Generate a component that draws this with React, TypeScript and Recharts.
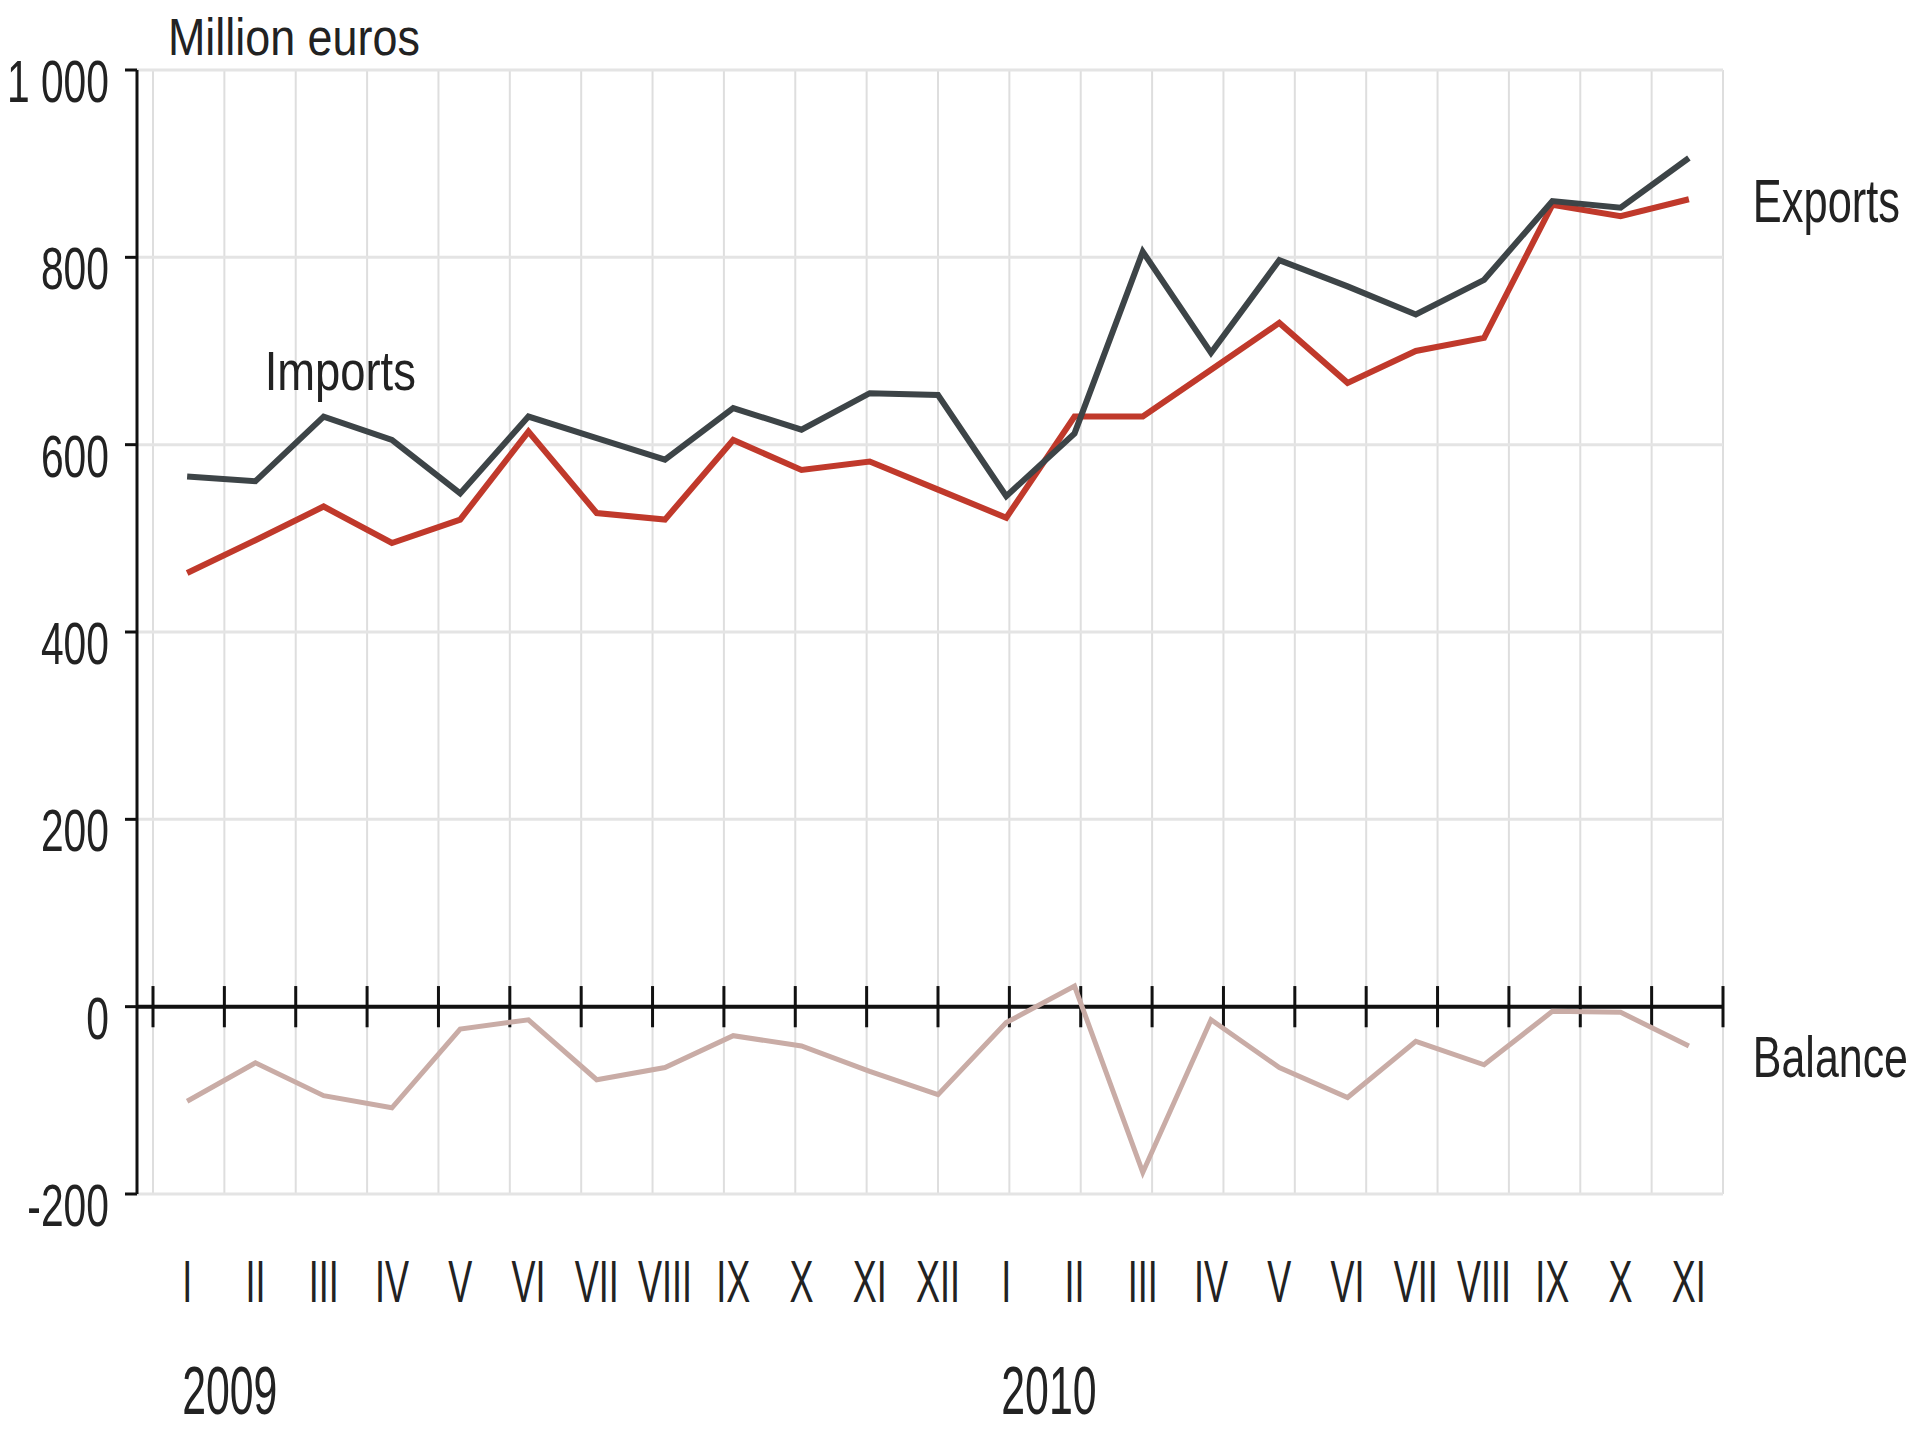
import React from "react";
import {
  LineChart,
  Line,
  XAxis,
  YAxis,
  ReferenceLine,
  LabelList,
  Customized
} from "recharts";

// months of 2009 (I–XII) and 2010 (I–XI)
const months = [
  "I", "II", "III", "IV", "V", "VI", "VII", "VIII", "IX", "X", "XI", "XII",
  "I", "II", "III", "IV", "V", "VI", "VII", "VIII", "IX", "X", "XI"
];
const imports = [
  566, 561, 630, 605, 548, 630, 607, 584, 639, 616, 655, 653,
  545, 612, 806, 698, 797, 769, 739, 776, 860, 853, 906
];
const exportsV = [
  463, 498, 534, 495, 520, 614, 527, 520, 605, 573, 582, 552,
  522, 630, 630, 680, 730, 666, 700, 714, 856, 844, 862
];
const balance = [
  -101, -60, -95, -108, -24, -14, -78, -65, -31, -42, -69, -94,
  -17, 22, -177, -14, -65, -97, -37, -62, -5, -6, -42
];
const yTicks = [-200, 0, 200, 400, 600, 800, 1000];
const years = [
  { label: "2009", at: 0 },
  { label: "2010", at: 12 }
];

const data = months.map((m, i) => ({
  slot: `${i}-${m}`,
  imports: imports[i],
  exports: exportsV[i],
  balance: balance[i]
}));
const edges = Array.from({ length: months.length + 1 }, (_, i) => i);

const FONT = "'Liberation Sans', Arial, sans-serif";
const INK = "#222";

const fmt = (v: number) => String(v).replace(/\B(?=(\d{3})+(?!\d))/g, " ");

// the source type is tall and condensed: draw at width size, stretch vertically
const Tall = ({ x, y, size, sx, anchor = "start", children }: any) => (
  <text
    transform={`translate(${x},${y}) scale(1,${1 / sx})`}
    textAnchor={anchor}
    fontSize={size * sx}
    fontFamily={FONT}
    fill={INK}
  >
    {children}
  </text>
);

const XTick = (props: any) => {
  const { x, y, payload } = props;
  const i = payload.index;
  const year = years.find((yr) => yr.at === i);
  return (
    <g>
      <Tall x={x} y={y + 106} size={60} sx={0.6} anchor="middle">
        {months[i]}
      </Tall>
      {year && (
        <Tall x={x - 5} y={y + 218} size={68} sx={0.63}>
          {year.label}
        </Tall>
      )}
    </g>
  );
};

const YTick = (props: any) => {
  const { x, y, payload } = props;
  return (
    <Tall x={x} y={y + 32} size={60} sx={0.68} anchor="end">
      {fmt(payload.value)}
    </Tall>
  );
};

const seriesLabel =
  (text: string, at: number, dx: number, dy: number, size: number, sx: number) =>
  (props: any) => {
    const { x, y, index } = props;
    if (index !== at) return null;
    return (
      <Tall x={x + dx} y={y + dy} size={size} sx={sx}>
        {text}
      </Tall>
    );
  };

const last = months.length - 1;

export default function App() {
  return (
    <div style={{ width: 1904, height: 1424 }}>
      <LineChart
        width={1904}
        height={1424}
        data={data}
        margin={{ top: 62, right: 189, bottom: 0, left: 0 }}
      >
        <XAxis
          dataKey="slot"
          scale="band"
          interval={0}
          axisLine={false}
          tickLine={false}
          tickSize={0}
          height={238}
          padding={{ left: 16, right: 0 }}
          tick={<XTick />}
        />
        <XAxis
          xAxisId="grid"
          type="number"
          domain={[0, months.length]}
          padding={{ left: 16, right: 0 }}
          hide
        />
        <YAxis
          domain={[-200, 1000]}
          ticks={yTicks}
          width={129}
          interval={0}
          tickSize={12}
          tickMargin={16}
          axisLine={{ stroke: "#111", strokeWidth: 3 }}
          tickLine={{ stroke: "#111", strokeWidth: 3 }}
          tick={<YTick />}
        />
        {edges.map((e) => (
          <ReferenceLine
            key={`v${e}`}
            xAxisId="grid"
            x={e}
            stroke="#dedede"
            strokeWidth={2}
          />
        ))}
        {yTicks
          .filter((v) => v !== 0)
          .map((v) => (
            <ReferenceLine
              key={`h${v}`}
              xAxisId="grid"
              y={v}
              stroke="#e4e4e4"
              strokeWidth={3}
            />
          ))}
        <ReferenceLine xAxisId="grid" y={0} stroke="#111" strokeWidth={4} />
        {edges.map((e) => (
          <ReferenceLine
            key={`t${e}`}
            xAxisId="grid"
            segment={[
              { x: e, y: -22 },
              { x: e, y: 22 }
            ]}
            stroke="#111"
            strokeWidth={3}
          />
        ))}
        <Line
          type="linear"
          dataKey="balance"
          stroke="#c9aca6"
          strokeWidth={5}
          dot={false}
          isAnimationActive={false}
        >
          <LabelList content={seriesLabel("Balance", last, 64, 31, 58, 0.74)} />
        </Line>
        <Line
          type="linear"
          dataKey="exports"
          stroke="#c0392b"
          strokeWidth={6}
          dot={false}
          isAnimationActive={false}
        >
          <LabelList content={seriesLabel("Exports", last, 64, 23, 62, 0.7)} />
        </Line>
        <Line
          type="linear"
          dataKey="imports"
          stroke="#3d4447"
          strokeWidth={6}
          dot={false}
          isAnimationActive={false}
        >
          <LabelList content={seriesLabel("Imports", 2, -59, -27, 56, 0.81)} />
        </Line>
        <Customized
          component={() => (
            <Tall x={160} y={47} size={51} sx={0.88}>
              Million euros
            </Tall>
          )}
        />
      </LineChart>
    </div>
  );
}
